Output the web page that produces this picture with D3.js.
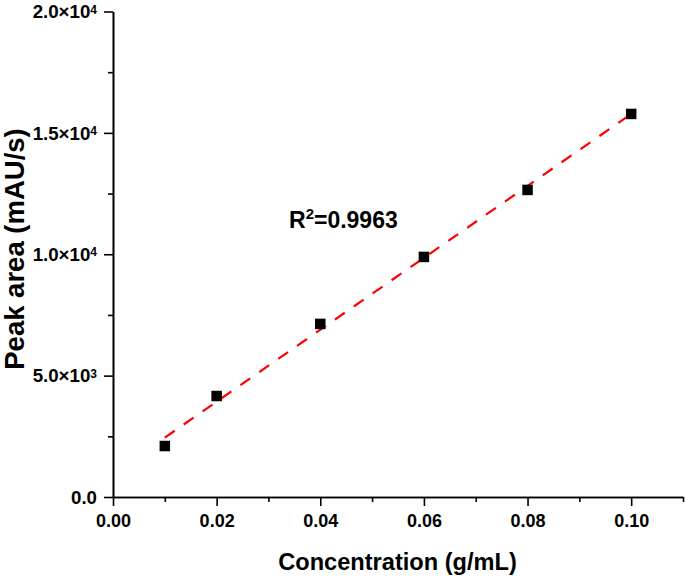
<!DOCTYPE html>
<html>
<head>
<meta charset="utf-8">
<script src="https://cdn.jsdelivr.net/npm/d3@7"></script>
<style>
  html, body { margin: 0; padding: 0; background: #fff; }
  svg { display: block; }
  text { font-family: "Liberation Sans", Arial, sans-serif; font-weight: bold; fill: #000; }
</style>
</head>
<body>
<svg id="chart" width="685" height="577"></svg>
<script>
// ---- data ----
const concentrations = [0.01, 0.02, 0.04, 0.06, 0.08, 0.10];
const peakAreas = [2100, 4160, 7130, 9890, 12650, 15780];
const xTicks = [0.00, 0.02, 0.04, 0.06, 0.08, 0.10];
const xTickLabels = ["0.00", "0.02", "0.04", "0.06", "0.08", "0.10"];
const xMinorTicks = [0.01, 0.03, 0.05, 0.07, 0.09, 0.11];
const yTicks = [0, 5000, 10000, 15000, 20000];
const yTickBase = ["0.0", "5.0\u00d710", "1.0\u00d710", "1.5\u00d710", "2.0\u00d710"];
const yTickExp = ["", "3", "4", "4", "4"];
const yMinorTicks = [2500, 7500, 12500, 17500];
const r2Label = ["R", "2", "=0.9963"];
const xTitle = "Concentration (g/mL)";
const yTitle = "Peak area (mAU/s)";

// ---- layout ----
const svg = d3.select("#chart");
const x = d3.scaleLinear().domain([0, 0.11]).range([113, 683]);
const y = d3.scaleLinear().domain([0, 20000]).range([497, 11.5]);

// least squares fit
const n = concentrations.length;
const mx = d3.mean(concentrations), my = d3.mean(peakAreas);
let sxy = 0, sxx = 0;
for (let i = 0; i < n; i++) {
  sxy += (concentrations[i] - mx) * (peakAreas[i] - my);
  sxx += (concentrations[i] - mx) ** 2;
}
const slope = sxy / sxx, intercept = my - slope * mx;
const fitX = [d3.min(concentrations), d3.max(concentrations)];

// axes
const xAxis = d3.axisBottom(x).tickValues(xTicks).tickFormat((d, i) => xTickLabels[i]).tickSize(9).tickSizeOuter(0).tickPadding(8);
const xMinor = d3.axisBottom(x).tickValues(xMinorTicks).tickFormat("").tickSize(5).tickSizeOuter(0);
const yAxis = d3.axisLeft(y).tickValues(yTicks).tickFormat("").tickSize(9).tickSizeOuter(0);
const yMinor = d3.axisLeft(y).tickValues(yMinorTicks).tickFormat("").tickSize(5).tickSizeOuter(0);

const gx = svg.append("g").attr("transform", `translate(0,${y(0)})`).call(xAxis);
svg.append("g").attr("transform", `translate(0,${y(0)})`).call(xMinor);
const gy = svg.append("g").attr("transform", `translate(${x(0)},0)`).call(yAxis);
svg.append("g").attr("transform", `translate(${x(0)},0)`).call(yMinor);

svg.selectAll(".domain, .tick line").attr("stroke", "#000").attr("stroke-width", 1.6);
gx.selectAll(".tick text").style("font-size", "18px").style("font-family", "'Liberation Sans', Arial, sans-serif").style("font-weight", "bold").attr("fill", "#000");

// y tick labels with superscripts
const yl = svg.append("g");
yTicks.forEach((v, i) => {
  const t = yl.append("text")
    .attr("x", 97).attr("y", y(v) + 6.7)
    .attr("text-anchor", "end")
    .style("font-size", "18.7px");
  t.append("tspan").text(yTickBase[i]);
  if (yTickExp[i]) {
    t.append("tspan").attr("dy", -4.5).style("font-size", "12px").text(yTickExp[i]);
  }
});

// fit line
svg.append("line")
  .attr("x1", x(fitX[0])).attr("y1", y(intercept + slope * fitX[0]))
  .attr("x2", x(fitX[1])).attr("y2", y(intercept + slope * fitX[1]))
  .attr("stroke", "#ff0000").attr("stroke-width", 2.2)
  .attr("stroke-dasharray", "12,11");

// points
const s = 10.5;
svg.append("g").selectAll("rect").data(concentrations).join("rect")
  .attr("x", d => x(d) - s / 2)
  .attr("y", (d, i) => y(peakAreas[i]) - s / 2)
  .attr("width", s).attr("height", s)
  .attr("fill", "#000");

// R2 annotation
const r2 = svg.append("text").attr("x", 289).attr("y", 228.3).style("font-size", "23px");
r2.append("tspan").text(r2Label[0]);
r2.append("tspan").attr("dy", -9.5).style("font-size", "15px").text(r2Label[1]);
r2.append("tspan").attr("dy", 9.5).text(r2Label[2]);

// axis titles
svg.append("text").attr("x", 397.5).attr("y", 569.5).attr("text-anchor", "middle")
  .style("font-size", "23.6px").text(xTitle);
svg.append("text").attr("transform", "translate(24,249) rotate(-90)").attr("text-anchor", "middle")
  .style("font-size", "27.5px").text(yTitle);
</script>
</body>
</html>
